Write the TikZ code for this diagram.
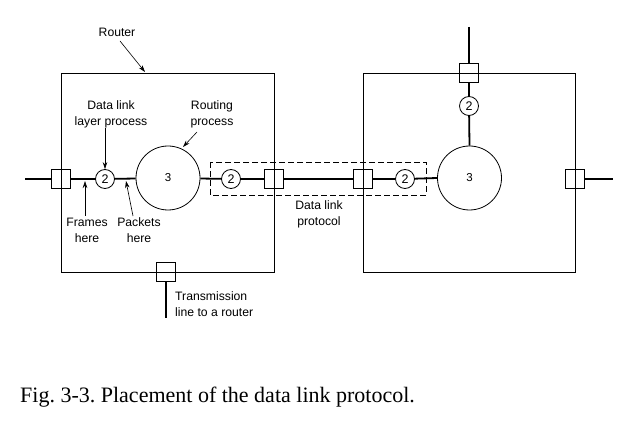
\documentclass[tikz,border=0pt]{standalone}
\usepackage{fontspec}
\setmainfont{Liberation Sans}
\newfontfamily\capfont{Liberation Serif}
\usetikzlibrary{arrows.meta}
\frenchspacing
\begin{document}
\begin{tikzpicture}[x=1pt,y=-1pt,
  port/.style={draw,line width=0.8pt,minimum size=19pt,inner sep=0pt,rectangle},
  dl/.style={draw,line width=0.8pt,circle,minimum size=19pt,inner sep=0pt,font=\fontsize{12.5}{12.5}\selectfont},
  rp/.style={draw,line width=0.8pt,circle,minimum size=64pt,inner sep=0pt,font=\fontsize{11.5}{11.5}\selectfont},
  wire/.style={line width=1.8pt},
  box/.style={draw,line width=0.9pt},
  lbl/.style={font=\fontsize{12.2}{16}\selectfont,align=center,inner sep=0pt},
  pt/.style={-{Stealth[length=7pt,width=4.5pt]},line width=0.6pt}
]
\useasboundingbox (0,0) rectangle (623,430);
% router boxes
\draw[box] (61,73) rectangle (274,272);
\draw[box] (363,73) rectangle (575,272);
% dashed
\draw[line width=0.8pt,dash pattern=on 6pt off 3pt] (210,162) rectangle (426,195);
% nodes
\node[port] (sqL1) at (61,179) {};
\node[dl] (c2a) at (105,179) {2};
\node[rp] (c3a) at (168,178) {3};
\node[dl] (c2b) at (231,179) {2};
\node[port] (sqL2) at (274,179) {};
\node[port] (sqR1) at (363,179) {};
\node[dl] (c2c) at (405,179) {2};
\node[rp] (c3b) at (469.5,178) {3};
\node[port] (sqR2) at (575,179) {};
\node[port] (sqT) at (469,73) {};
\node[dl] (c2d) at (469,106) {2};
\node[port] (sqB) at (166,272) {};
\coordinate (inL) at (25,179);
\coordinate (outR) at (613,179);
\coordinate (topEnd) at (469,27);
\coordinate (botEnd) at (166,318);
% wires
\draw[wire] (inL) -- (sqL1.west);
\draw[wire] (sqL1.east) -- (c2a);
\draw[wire] (c2a) -- (c3a);
\draw[wire] (c3a) -- (c2b);
\draw[wire] (c2b) -- (sqL2.west);
\draw[wire] (sqL2.east) -- (sqR1.west);
\draw[wire] (sqR1.east) -- (c2c);
\draw[wire] (c2c) -- (c3b.west);
\draw[wire] (sqR2.east) -- (outR);
\draw[wire] (topEnd) -- (sqT.north);
\draw[wire] (sqT.south) -- (c2d);
\draw[wire] (c2d) -- (c3b.north);
\draw[wire] (sqB.south) -- (botEnd);
% labels
\node[lbl] (router) at (117,32) {Router};
\coordinate (routerTip) at (145,72);
\draw[pt] (120,41) -- (routerTip);
\node[lbl] (dllp) at (111,114) {Data link\\layer process};
\draw[pt] (dllp.south -| c2a) -- (c2a.north);
\node[lbl] (rproc) at (212,114) {Routing\\process};
\coordinate (rpTip) at (183,147);
\draw[pt] (197,132) -- (rpTip);
\node[lbl] (frames) at (87,230) {Frames\\here};
\coordinate (frTip) at (85,181);
\draw[pt] (85,216) -- (frTip);
\node[lbl] (packets) at (139,230) {Packets\\here};
\coordinate (pkTip) at (126,181);
\draw[pt] (133,216) -- (pkTip);
\node[lbl] (dlp) at (319,214) {Data link\\protocol};
\node[lbl,align=left,anchor=west] (tx) at (175,304) {Transmission\\line to a router};
% caption
\node[anchor=base west,inner sep=0pt,font=\capfont\fontsize{22}{24}\selectfont] (cap) at (20,402) {Fig. 3-3. Placement of the data link protocol.};
\end{tikzpicture}
\end{document}
